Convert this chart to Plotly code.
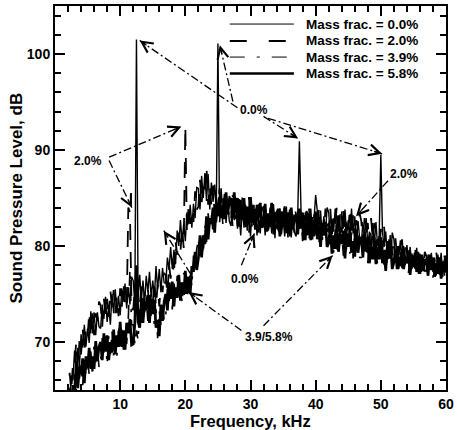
import math
import plotly.graph_objects as go

# ---------------- data ----------------
# frequency grid, kHz (rows of 5 kHz)
freq_khz = [
    2.0, 2.25, 2.5, 2.75, 3.0, 3.25, 3.5, 3.75, 4.0, 4.25, 4.5, 4.75, 5.0, 5.25, 5.5, 5.75, 6.0, 6.25, 6.5, 6.75,
    7.0, 7.25, 7.5, 7.75, 8.0, 8.25, 8.5, 8.75, 9.0, 9.25, 9.5, 9.75, 10.0, 10.25, 10.5, 10.75, 11.0, 11.25, 11.5, 11.75,
    12.0, 12.25, 12.5, 12.75, 13.0, 13.25, 13.5, 13.75, 14.0, 14.25, 14.5, 14.75, 15.0, 15.25, 15.5, 15.75, 16.0, 16.25, 16.5, 16.75,
    17.0, 17.25, 17.5, 17.75, 18.0, 18.25, 18.5, 18.75, 19.0, 19.25, 19.5, 19.75, 20.0, 20.25, 20.5, 20.75, 21.0, 21.25, 21.5, 21.75,
    22.0, 22.25, 22.5, 22.75, 23.0, 23.25, 23.5, 23.75, 24.0, 24.25, 24.5, 24.75, 25.0, 25.25, 25.5, 25.75, 26.0, 26.25, 26.5, 26.75,
    27.0, 27.25, 27.5, 27.75, 28.0, 28.25, 28.5, 28.75, 29.0, 29.25, 29.5, 29.75, 30.0, 30.25, 30.5, 30.75, 31.0, 31.25, 31.5, 31.75,
    32.0, 32.25, 32.5, 32.75, 33.0, 33.25, 33.5, 33.75, 34.0, 34.25, 34.5, 34.75, 35.0, 35.25, 35.5, 35.75, 36.0, 36.25, 36.5, 36.75,
    37.0, 37.25, 37.5, 37.75, 38.0, 38.25, 38.5, 38.75, 39.0, 39.25, 39.5, 39.75, 40.0, 40.25, 40.5, 40.75, 41.0, 41.25, 41.5, 41.75,
    42.0, 42.25, 42.5, 42.75, 43.0, 43.25, 43.5, 43.75, 44.0, 44.25, 44.5, 44.75, 45.0, 45.25, 45.5, 45.75, 46.0, 46.25, 46.5, 46.75,
    47.0, 47.25, 47.5, 47.75, 48.0, 48.25, 48.5, 48.75, 49.0, 49.25, 49.5, 49.75, 50.0, 50.25, 50.5, 50.75, 51.0, 51.25, 51.5, 51.75,
    52.0, 52.25, 52.5, 52.75, 53.0, 53.25, 53.5, 53.75, 54.0, 54.25, 54.5, 54.75, 55.0, 55.25, 55.5, 55.75, 56.0, 56.25, 56.5, 56.75,
    57.0, 57.25, 57.5, 57.75, 58.0, 58.25, 58.5, 58.75, 59.0, 59.25, 59.5, 59.75, 60.0,
]

# Mass frac. = 0.0 %
spl_00 = [
    65.2, 63.7, 66.5, 66.0, 69.1, 66.9, 69.4, 67.4, 70.8, 69.4, 71.8, 69.5, 71.4, 69.9, 73.2, 70.9, 73.1, 70.7, 73.1, 71.6,
    71.4, 73.9, 72.4, 74.7, 72.1, 73.7, 71.8, 75.0, 73.0, 75.5, 73.0, 74.8, 72.8, 75.6, 74.2, 76.1, 73.5, 75.7, 73.9, 76.8,
    76.4, 73.9, 101.5, 74.5, 77.0, 74.3, 76.4, 74.0, 76.9, 75.2, 77.3, 74.7, 76.4, 74.7, 77.9, 75.5, 77.6, 75.2, 77.7, 76.2,
    76.1, 78.8, 77.5, 79.9, 77.6, 79.6, 78.1, 81.6, 80.0, 82.7, 80.4, 82.3, 80.5, 83.5, 82.3, 84.3, 81.9, 84.4, 82.9, 86.1,
    86.0, 83.8, 87.3, 85.0, 87.6, 84.7, 87.5, 83.8, 86.6, 84.6, 86.4, 83.5, 101.1, 83.0, 86.0, 83.2, 85.1, 82.4, 84.5, 82.6,
    82.1, 84.4, 82.7, 84.6, 81.8, 83.2, 81.1, 84.1, 81.9, 84.3, 81.6, 83.2, 81.0, 83.7, 82.2, 83.9, 81.1, 83.2, 81.3, 84.1,
    83.6, 81.1, 82.9, 81.6, 84.0, 81.3, 83.3, 80.8, 83.7, 81.9, 83.9, 81.2, 82.8, 81.0, 84.1, 81.5, 83.5, 80.9, 83.1, 81.4,
    81.0, 83.4, 90.9, 83.8, 81.1, 82.6, 80.6, 83.6, 81.5, 83.9, 81.3, 82.9, 85.3, 83.5, 82.0, 83.7, 81.0, 83.1, 81.2, 84.0,
    83.5, 81.0, 82.8, 81.5, 83.9, 81.2, 83.2, 80.7, 83.6, 81.8, 83.8, 81.1, 82.7, 80.9, 83.9, 81.3, 83.1, 80.5, 82.6, 80.8,
    80.2, 82.5, 80.9, 82.9, 80.1, 81.5, 79.5, 82.4, 80.2, 82.5, 80.0, 81.1, 89.5, 81.5, 79.9, 81.5, 78.7, 80.7, 78.7, 81.4,
    80.7, 78.7, 80.0, 78.9, 80.6, 78.5, 80.0, 78.0, 80.1, 78.6, 79.9, 77.9, 79.0, 77.6, 79.8, 77.8, 79.2, 77.3, 78.8, 77.5,
    77.3, 79.1, 77.7, 79.3, 77.3, 78.4, 76.9, 79.1, 77.5, 79.3, 77.3, 78.6, 77.2,
]

# Mass frac. = 2.0 %
spl_20 = [
    63.6, 66.8, 64.9, 67.7, 67.5, 70.0, 67.3, 70.1, 68.7, 71.4, 68.9, 71.3, 70.5, 73.1, 70.5, 73.0, 70.7, 73.0, 72.2, 74.2,
    73.8, 71.6, 74.5, 72.8, 74.5, 72.4, 75.4, 73.6, 75.4, 73.0, 74.7, 72.7, 75.6, 73.6, 76.2, 74.0, 73.5, 84.0, 83.5, 73.8,
    73.3, 75.6, 72.7, 74.7, 73.8, 75.8, 72.7, 75.1, 73.3, 75.7, 72.9, 75.0, 74.0, 76.4, 73.7, 76.0, 73.7, 76.0, 75.2, 77.2,
    76.9, 74.9, 78.1, 76.6, 78.7, 77.0, 80.5, 79.1, 81.4, 79.4, 81.9, 79.8, 92.5, 81.3, 84.2, 82.3, 83.7, 82.5, 85.7, 83.8,
    84.1, 86.9, 84.4, 86.7, 85.9, 88.3, 84.3, 86.3, 84.2, 86.3, 83.2, 85.0, 83.8, 86.0, 83.1, 85.2, 82.6, 84.6, 83.5, 85.2,
    84.5, 82.1, 84.8, 82.8, 84.3, 82.0, 84.8, 82.7, 84.4, 81.8, 83.4, 81.2, 84.0, 81.9, 84.3, 82.0, 83.0, 81.4, 84.1, 81.8,
    81.7, 84.1, 81.3, 83.3, 82.4, 84.4, 81.2, 83.5, 81.6, 83.9, 81.0, 83.0, 81.9, 84.2, 81.3, 83.5, 81.0, 83.1, 82.1, 83.9,
    83.3, 81.0, 83.8, 81.9, 83.5, 81.3, 84.2, 82.2, 83.9, 81.4, 83.0, 81.0, 83.6, 81.5, 84.0, 81.7, 82.7, 81.1, 83.9, 81.6,
    81.5, 83.9, 81.1, 83.1, 82.2, 84.2, 81.0, 83.3, 81.4, 83.7, 80.8, 82.8, 81.7, 83.9, 81.0, 83.2, 80.6, 82.7, 81.7, 83.4,
    82.6, 80.2, 82.9, 80.9, 82.4, 80.1, 82.9, 80.8, 82.4, 79.8, 81.3, 79.1, 81.8, 79.6, 82.0, 79.6, 80.5, 78.8, 81.5, 79.1,
    79.1, 80.8, 78.6, 80.0, 79.2, 80.7, 78.3, 79.9, 78.3, 80.0, 77.7, 79.2, 78.3, 79.9, 77.7, 79.4, 77.4, 79.0, 78.1, 79.4,
    78.9, 77.2, 79.3, 77.8, 79.0, 77.3, 79.4, 77.9, 79.1, 77.3, 78.5, 76.9, 79.0,
]

# Mass frac. = 3.9 %
spl_39 = [
    64.5, 62.9, 64.5, 63.5, 66.6, 64.8, 67.8, 66.2, 67.6, 65.5, 68.5, 66.5, 68.2, 66.6, 69.0, 66.5, 69.7, 67.9, 69.5, 67.4,
    67.7, 70.4, 68.7, 70.1, 67.7, 70.6, 68.7, 71.1, 68.6, 70.1, 68.5, 71.7, 69.6, 71.3, 69.2, 71.1, 69.8, 72.5, 77.5, 71.8,
    71.8, 69.8, 71.2, 70.2, 73.4, 71.7, 74.7, 73.1, 74.5, 72.2, 74.9, 72.6, 73.9, 71.7, 73.4, 70.4, 73.2, 71.8, 73.8, 72.2,
    72.8, 75.7, 74.1, 75.7, 73.4, 76.3, 74.5, 76.9, 74.4, 75.8, 74.1, 77.2, 75.0, 76.9, 74.9, 77.0, 75.8, 79.0, 77.8, 79.7,
    80.7, 79.0, 80.4, 79.2, 82.1, 80.4, 83.4, 81.8, 83.3, 81.3, 84.3, 82.4, 84.1, 82.4, 84.8, 82.3, 85.4, 83.5, 84.9, 82.7,
    82.8, 85.3, 83.5, 84.7, 82.1, 84.9, 82.8, 85.1, 82.4, 83.8, 82.0, 85.1, 82.7, 84.3, 82.0, 83.7, 82.2, 84.7, 82.9, 84.1,
    84.5, 82.3, 83.1, 81.5, 83.9, 81.8, 84.4, 82.4, 83.5, 81.2, 83.9, 81.7, 83.2, 81.3, 83.5, 80.9, 83.8, 81.9, 83.3, 81.0,
    81.1, 83.6, 81.8, 83.0, 80.5, 83.2, 81.2, 83.4, 80.8, 82.1, 80.4, 83.4, 81.1, 82.6, 80.2, 81.9, 80.3, 82.8, 80.9, 82.1,
    82.4, 80.1, 80.9, 79.3, 81.7, 79.6, 82.2, 80.3, 81.4, 79.0, 81.8, 79.6, 81.0, 79.2, 81.4, 78.7, 81.7, 79.7, 81.1, 78.8,
    78.8, 81.3, 79.5, 80.7, 78.2, 80.9, 78.8, 81.1, 78.4, 79.7, 78.0, 81.0, 78.7, 80.2, 77.8, 79.6, 78.0, 80.5, 78.7, 79.9,
    79.9, 78.2, 78.9, 77.6, 79.4, 77.7, 79.7, 78.2, 79.0, 77.2, 79.3, 77.6, 78.7, 77.3, 78.9, 76.9, 79.1, 77.6, 78.7, 77.0,
    77.0, 78.9, 77.6, 78.6, 76.7, 78.8, 77.3, 78.9, 77.0, 78.0, 76.8, 79.0, 77.3,
]

# Mass frac. = 5.8 %
spl_58 = [
    62.6, 65.1, 63.0, 65.5, 64.8, 67.6, 65.2, 67.4, 66.7, 68.3, 65.7, 68.5, 67.3, 69.4, 67.2, 68.5, 67.2, 70.1, 68.0, 69.5,
    70.0, 68.1, 70.9, 69.0, 70.7, 68.1, 70.0, 68.9, 71.3, 68.7, 70.7, 69.5, 72.1, 69.5, 71.2, 69.2, 72.0, 70.9, 72.4, 69.7,
    69.8, 71.9, 78.0, 72.1, 71.5, 74.4, 72.0, 74.2, 73.5, 74.9, 72.0, 74.5, 72.9, 74.4, 71.5, 72.3, 70.6, 73.9, 72.2, 74.2,
    75.0, 73.3, 76.2, 74.5, 76.3, 73.7, 75.7, 74.6, 77.0, 74.3, 76.2, 74.9, 77.4, 75.0, 76.8, 75.0, 77.9, 77.3, 79.4, 77.5,
    78.7, 81.1, 78.8, 81.1, 80.2, 83.1, 80.7, 82.9, 82.3, 84.0, 81.4, 84.3, 83.1, 85.1, 82.9, 84.2, 82.8, 85.6, 83.3, 84.7,
    85.0, 82.9, 85.6, 83.5, 85.0, 82.3, 84.0, 82.8, 85.0, 82.3, 84.1, 82.8, 85.1, 82.4, 83.9, 81.7, 84.3, 83.0, 84.5, 81.9,
    82.5, 84.4, 81.5, 83.4, 82.0, 84.5, 81.7, 83.5, 82.5, 83.9, 81.0, 83.6, 82.2, 84.0, 81.6, 82.8, 81.2, 84.0, 81.7, 83.0,
    83.3, 81.2, 83.9, 81.8, 83.4, 80.6, 82.4, 81.1, 83.4, 80.6, 82.5, 81.1, 83.5, 80.7, 82.1, 79.9, 82.4, 81.1, 82.5, 79.9,
    80.3, 82.1, 79.2, 81.1, 79.7, 82.2, 79.4, 81.2, 80.2, 81.6, 78.7, 81.3, 79.9, 81.7, 79.3, 80.5, 78.9, 81.7, 79.3, 80.7,
    80.9, 78.8, 81.5, 79.4, 80.9, 78.2, 79.9, 78.6, 80.9, 78.1, 79.9, 78.6, 80.9, 78.2, 79.6, 77.4, 80.0, 78.7, 80.2, 77.6,
    78.3, 79.7, 77.6, 78.9, 77.9, 79.7, 77.6, 78.9, 78.2, 79.1, 77.0, 79.0, 77.8, 79.3, 77.3, 78.3, 77.1, 79.1, 77.4, 78.5,
    78.6, 76.9, 79.1, 77.5, 78.8, 76.8, 78.2, 77.1, 78.8, 76.6, 78.4, 77.3, 78.6,
]

series_names = ["Mass frac. = 0.0%", "Mass frac. = 2.0%", "Mass frac. = 3.9%", "Mass frac. = 5.8%"]

x_ticks = [10, 20, 30, 40, 50, 60]
y_ticks = [70, 80, 90, 100]

# annotation labels: text, x (kHz), y (dB)
label_text = ["2.0%", "0.0%", "2.0%", "0.0%", "3.9/5.8%"]
label_x = [5.0, 30.6, 53.5, 29.1, 32.9]
label_y = [88.9, 94.2, 87.5, 76.6, 70.5]

# arrows: tail (x, y) -> head (x, y)
arrow_tail_x = [28.0, 27.3, 32.0, 32.7, 8.3, 8.3, 51.1, 28.6, 28.6, 32.0, 20.8]
arrow_tail_y = [94.4, 95.05, 93.5, 93.3, 89.25, 88.9, 86.8, 78.0, 71.2, 71.7, 77.1]
arrow_head_x = [13.0, 25.3, 37.3, 50.2, 19.4, 11.8, 46.2, 30.6, 20.5, 42.6, 16.7]
arrow_head_y = [101.4, 100.9, 91.2, 89.6, 92.45, 84.0, 83.1, 81.3, 75.2, 79.0, 81.6]

for s in (spl_00, spl_20, spl_39, spl_58):
    assert len(s) == len(freq_khz), (len(s), len(freq_khz))

# ---------------- style / layout ----------------
W, H = 458, 430
ML, MR, MT, MB = 55, 7, 4, 40
XR = [0, 60]
YR = [65, 105]
FONT = "Arial, 'Liberation Sans', sans-serif"

styles = [
    dict(color="black", width=1.4),
    dict(color="black", width=1.8, dash="16px,12px"),
    dict(color="black", width=1.6, dash="14px,8px,3px,8px"),
    dict(color="black", width=2.7),
]

fig = go.Figure()
for fy, name, st in zip((spl_00, spl_20, spl_39, spl_58), series_names, styles):
    fig.add_trace(go.Scatter(x=freq_khz, y=fy, mode="lines", name=name, line=st, showlegend=False))

shapes = []
annotations = []

# manual legend (top right)
leg_rows = [0.953, 0.909, 0.867, 0.824]
leg_styles = [
    dict(color="black", width=1.0),
    dict(color="black", width=2.0, dash="17px,22px"),
    dict(color="black", width=1.0, dash="15px,12px,3px,12px"),
    dict(color="black", width=2.5),
]
for yy, name, st in zip(leg_rows, series_names, leg_styles):
    shapes.append(dict(type="line", xref="paper", yref="paper", x0=0.447, x1=0.611, y0=yy, y1=yy, line=st))
    annotations.append(dict(xref="paper", yref="paper", x=0.637, y=yy, text=name, showarrow=False,
                            xanchor="left", yanchor="middle",
                            font=dict(family=FONT, size=13.5, color="black", weight="bold")))

# arrows (dash-dot shafts + open heads)
kx = (W - ML - MR) / (XR[1] - XR[0])
ky = (H - MT - MB) / (YR[1] - YR[0])
for tx, ty, hx, hy in zip(arrow_tail_x, arrow_tail_y, arrow_head_x, arrow_head_y):
    shapes.append(dict(type="line", xref="x", yref="y", x0=tx, y0=ty, x1=hx, y1=hy, layer="above",
                       line=dict(color="black", width=1.3, dash="8px,3px,2px,3px")))
    dxp = (tx - hx) * kx
    dyp = -(ty - hy) * ky
    L = math.hypot(dxp, dyp)
    annotations.append(dict(xref="x", yref="y", x=hx, y=hy, text="", showarrow=True,
                            arrowhead=5, arrowsize=1.8, arrowwidth=1.2, arrowcolor="black",
                            ax=dxp / L * 10, ay=dyp / L * 10, standoff=0))

for t, x, y in zip(label_text, label_x, label_y):
    annotations.append(dict(xref="x", yref="y", x=x, y=y, text=t, showarrow=False,
                            font=dict(family=FONT, size=12, color="black", weight="bold")))

# axis titles
annotations.append(dict(xref="paper", yref="paper", x=0.5, y=-0.082, text="Frequency, kHz",
                        showarrow=False, xanchor="center", yanchor="middle",
                        font=dict(family=FONT, size=16.5, color="black", weight="bold")))
annotations.append(dict(xref="paper", yref="paper", x=-0.101, y=0.5, text="Sound Pressure Level, dB",
                        showarrow=False, xanchor="center", yanchor="middle", textangle=-90,
                        font=dict(family=FONT, size=17, color="black", weight="bold")))

axis_common = dict(
    showgrid=False, zeroline=False, showline=True, linecolor="black", linewidth=2, mirror="ticks",
    ticks="inside", ticklen=10, tickwidth=2, tickcolor="black", ticklabeloverflow="allow",
    tickfont=dict(family=FONT, size=14, color="black", weight="bold"),
)
fig.update_xaxes(range=XR, tickmode="array", tickvals=x_ticks, ticktext=[str(v) for v in x_ticks],
                 minor=dict(dtick=2, tick0=0, ticks="inside", ticklen=6, tickwidth=1.5, tickcolor="black"),
                 **axis_common)
fig.update_yaxes(range=YR, tickmode="array", tickvals=y_ticks, ticktext=[str(v) for v in y_ticks],
                 minor=dict(dtick=2, tick0=0, ticks="inside", ticklen=6, tickwidth=1.5, tickcolor="black"),
                 **axis_common)

fig.update_layout(
    width=W, height=H, autosize=False,
    margin=dict(l=ML, r=MR, t=MT, b=MB, pad=0),
    paper_bgcolor="white", plot_bgcolor="white",
    shapes=shapes, annotations=annotations, showlegend=False,
)

fig.write_html("out.html", include_plotlyjs=True, config={"displayModeBar": False})
